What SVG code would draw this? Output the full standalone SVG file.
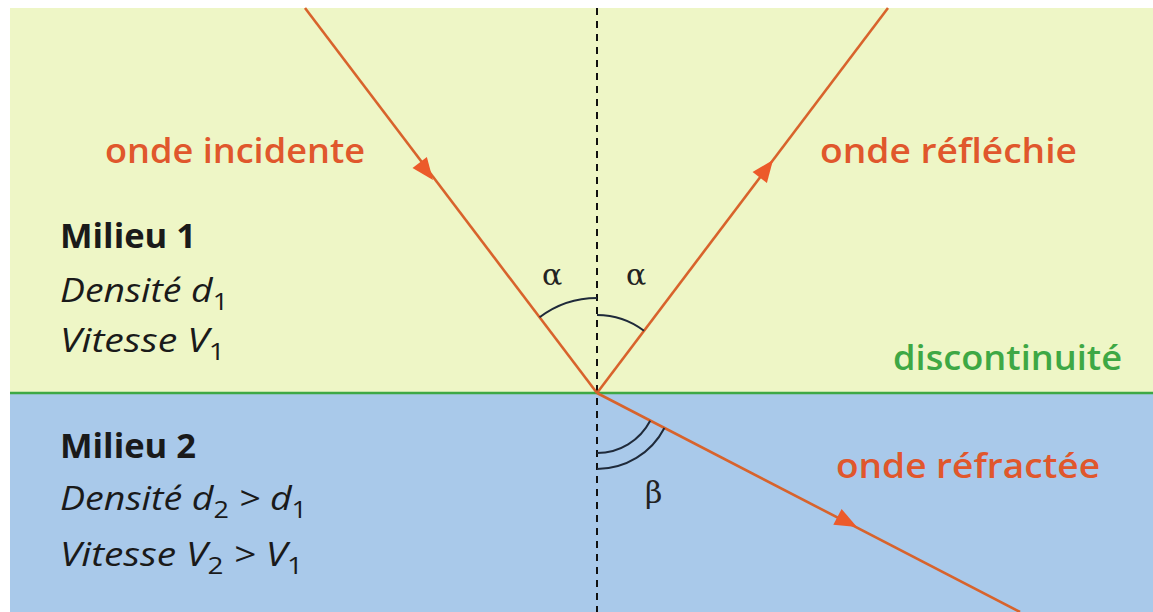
<svg xmlns="http://www.w3.org/2000/svg" width="1153" height="612" viewBox="0 0 1153 612">
<style>
.lbl{font-family:"Open Sans","Liberation Sans",sans-serif;font-weight:600;font-size:34px;fill:#e0572c}
.grn{fill:#3ea845}
.mil{font-family:"Open Sans","Liberation Sans",sans-serif;font-weight:700;font-size:34px;fill:#1a1a1a}
.it{font-family:"Open Sans","Liberation Sans",sans-serif;font-style:italic;font-size:32px;fill:#1a1a1a}
.sub{font-style:normal;font-size:23px}
.gr{font-family:"DejaVu Serif","Liberation Serif",serif;font-size:30px;fill:#222}
.ray{stroke:#d8632c;stroke-width:2.6;fill:none}
.arc{stroke:#1f2a3a;stroke-width:2;fill:none}
.head{fill:#ec5a2a}
</style>
<rect x="0" y="0" width="1153" height="612" fill="#ffffff"/>
<g id="milieu1-zone"><rect x="10" y="8" width="1143" height="385" fill="#eef6c6"/></g>
<g id="milieu2-zone"><rect x="10" y="393" width="1143" height="219" fill="#a9c9ea"/></g>
<g id="connectors">
<line id="normal" x1="597" y1="8" x2="597" y2="612" stroke="#111" stroke-width="2" stroke-dasharray="7,6"/>
<line id="discontinuity" x1="10" y1="393" x2="1153" y2="393" stroke="#3ea845" stroke-width="2.6"/>
<line id="incident" class="ray" x1="305" y1="8" x2="597" y2="393"/>
<line id="reflected" class="ray" x1="597" y1="393" x2="888" y2="8"/>
<line id="refracted" class="ray" x1="597" y1="393" x2="1020" y2="612"/>
<polygon class="head" points="0,0 -22,-9 -22,9" transform="translate(433,180) rotate(52.8)"/>
<polygon class="head" points="0,0 -22,-9 -22,9" transform="translate(773,160) rotate(-52.9)"/>
<polygon class="head" points="0,0 -22,-9 -22,9" transform="translate(857,527) rotate(27.4)"/>
<path class="arc" d="M597,298 A95,95 0 0 0 539.6,317.3"/>
<path class="arc" d="M597,315 A78,78 0 0 1 644,330.8"/>
<path class="arc" d="M597,453 A60,60 0 0 0 650.2,420.7"/>
<path class="arc" d="M597,469 A76,76 0 0 0 664.4,428"/>
</g>
<g id="label-incidente"><text class="lbl" x="105" y="163" textLength="260" lengthAdjust="spacingAndGlyphs">onde incidente</text></g>
<g id="label-reflechie"><text class="lbl" x="820" y="163" textLength="257" lengthAdjust="spacingAndGlyphs">onde réfléchie</text></g>
<g id="label-discontinuite"><text class="lbl grn" x="893" y="370" textLength="229" lengthAdjust="spacingAndGlyphs">discontinuité</text></g>
<g id="label-refractee"><text class="lbl" x="836" y="478" textLength="264" lengthAdjust="spacingAndGlyphs">onde réfractée</text></g>
<g id="angles">
<text class="gr" x="542" y="285">α</text>
<text class="gr" x="626" y="285">α</text>
<text class="gr" x="645" y="503">β</text>
</g>
<g id="milieu1">
<text class="mil" x="60" y="248" textLength="136" lengthAdjust="spacingAndGlyphs">Milieu 1</text>
<text class="it" x="60" y="302" textLength="168" lengthAdjust="spacingAndGlyphs">Densité d<tspan class="sub" dy="8">1</tspan></text>
<text class="it" x="60" y="352" textLength="165" lengthAdjust="spacingAndGlyphs">Vitesse V<tspan class="sub" dy="8">1</tspan></text>
</g>
<g id="milieu2">
<text class="mil" x="60" y="458" textLength="136" lengthAdjust="spacingAndGlyphs">Milieu 2</text>
<text class="it" x="60" y="510" textLength="247" lengthAdjust="spacingAndGlyphs">Densité d<tspan class="sub" dy="8">2</tspan><tspan dy="-8"> &gt; d</tspan><tspan class="sub" dy="8">1</tspan></text>
<text class="it" x="60" y="566" textLength="243" lengthAdjust="spacingAndGlyphs">Vitesse V<tspan class="sub" dy="8">2</tspan><tspan dy="-8"> &gt; V</tspan><tspan class="sub" dy="8">1</tspan></text>
</g>
</svg>
